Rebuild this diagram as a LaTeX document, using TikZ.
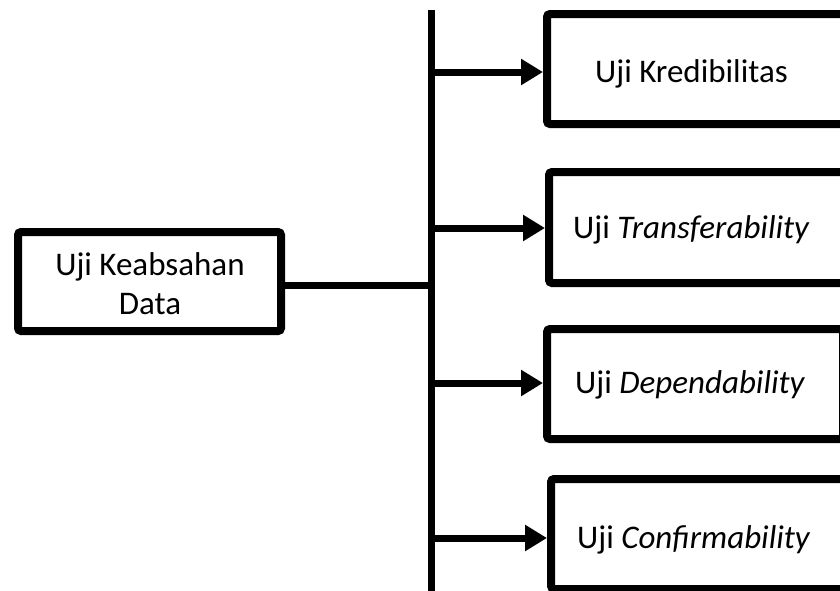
\documentclass[tikz,border=0pt]{standalone}
\usepackage{fontspec}
\setmainfont{Carlito}
\usetikzlibrary{arrows.meta,shadows}
\begin{document}
\begin{tikzpicture}[x=1pt,y=-1pt,
  box/.style={draw=black, line width=8pt, fill=white, rounded corners=3pt,
    inner sep=0pt, anchor=north west,
    drop shadow={opacity=0.3, shadow xshift=3pt, shadow yshift=-3pt}},
  label/.style={font=\fontsize{33}{39}\selectfont, inner sep=0pt},
  bar/.style={line width=7pt},
  feed/.style={line width=7pt, -{Triangle[length=22pt,width=25pt]}}]
\useasboundingbox (0,0) rectangle (840,590);
\clip (0,0) rectangle (840,590);

% source box
\node[box, minimum width=263pt, minimum height=99pt] (src) at (14,228) {};
\node[label, align=center] (srctext) at (150,284) {Uji Keabsahan\\Data};

% target boxes (they run past the right edge)
\node[box, minimum width=330pt, minimum height=110pt] (b1) at (543,10) {};
\node[box, minimum width=330pt, minimum height=111pt] (b2) at (545,168) {};
\node[box, minimum width=296pt, minimum height=110pt] (b3) at (543,325) {};
\node[box, minimum width=330pt, minimum height=110pt] (b4) at (547,475) {};

\node[label, anchor=base west] (t1) at (595,82) {Uji Kredibilitas};
\node[label, anchor=base west] (t2) at (573,238) {Uji \textit{Transferability}};
\node[label, anchor=base west] (t3) at (575,393) {Uji \textit{Dependability}};
\node[label, anchor=base west] (t4) at (577,548) {Uji \textit{Confirmability}};

% trunk line
\coordinate (top) at (431,10);
\coordinate (bottom) at (431,600);
\coordinate (hub) at (431,285);
\draw[bar] (top) -- (bottom);
\draw[bar] (src.east |- hub) -- (hub);

% branches
\coordinate (j1) at (431,72);
\coordinate (j2) at (431,228);
\coordinate (j3) at (431,383);
\coordinate (j4) at (431,538);
\draw[feed] (j1) -- (b1.west |- j1);
\draw[feed] (j2) -- (b2.west |- j2);
\draw[feed] (j3) -- (b3.west |- j3);
\draw[feed] (j4) -- (b4.west |- j4);
\end{tikzpicture}
\end{document}
